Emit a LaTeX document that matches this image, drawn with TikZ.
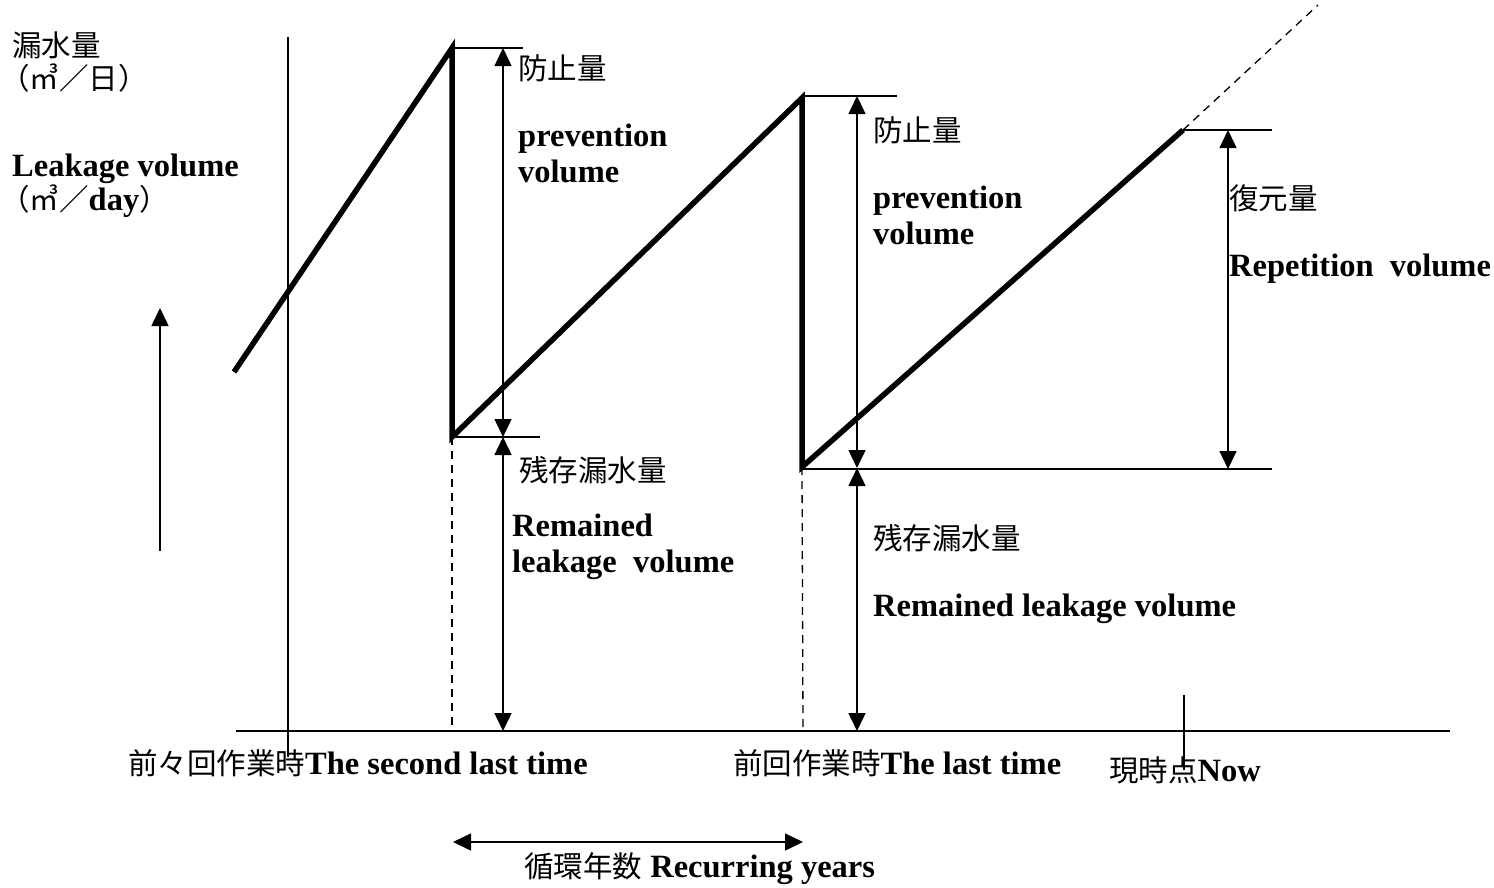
\documentclass[tikz,border=0pt]{standalone}
\usepackage{fontspec}
\setmainfont{Liberation Serif}
\newfontfamily\cjk{Noto Sans CJK JP}
\newcommand{\jpt}[1]{{\cjk\mdseries\fontsize{29.5}{34}\selectfont #1}}
\usetikzlibrary{arrows.meta}
\begin{document}
\begin{tikzpicture}[x=1pt,y=-1pt,
  thinl/.style={line width=1.5pt},
  saw/.style={line width=5.5pt, line join=miter},
  dashl/.style={line width=1.3pt, dash pattern=on 8pt off 6pt},
  dim/.style={line width=1.5pt, {Triangle[length=18pt,width=17pt]}-{Triangle[length=18pt,width=17pt]}},
  up/.style={line width=1.5pt, -{Triangle[length=18pt,width=17pt]}},
  en/.style={font=\fontsize{32.5}{36}\selectfont\bfseries, inner sep=0pt, anchor=base west},
  jp/.style={font=\fontsize{29.5}{34}\selectfont\cjk, inner sep=0pt, anchor=base west},
  mix/.style={font=\fontsize{32.5}{36}\selectfont\bfseries, inner sep=0pt, anchor=base west},
]
\useasboundingbox (0,0) rectangle (1494,887);
% key points
\coordinate (s0) at (234,372);
\coordinate (pk1) at (452,48);
\coordinate (lo1) at (452,437);
\coordinate (pk2) at (802,98);
\coordinate (lo2) at (802,467);
\coordinate (nowpt) at (1183,130);
\coordinate (dashend) at (1318,5);
\coordinate (ax1) at (452,731);
\coordinate (ax2) at (803,731);
% axes
\coordinate (yt) at (288,37);
\coordinate (yb) at (288,757);
\coordinate (xl) at (236,731);
\coordinate (xr) at (1450,731);
\draw[thinl] (yt) -- (yb);
\draw[thinl] (xl) -- (xr);
\coordinate (nt) at (1184,695);
\coordinate (nb) at (1184,770);
\draw[thinl] (nt) -- (nb);
% sawtooth
\draw[saw] (s0) -- (pk1) -- (lo1) -- (pk2) -- (lo2) -- (nowpt);
\draw[dashl] (nowpt) -- (dashend);
\draw[dashl] (lo1) -- (ax1);
\draw[dashl] (lo2) -- (ax2);
% reference lines
\coordinate (h1) at (523,48);
\coordinate (h2a) at (802,96);
\coordinate (h2b) at (897,96);
\coordinate (h3) at (540,437);
\coordinate (h4) at (1272,469);
\coordinate (h4a) at (803,469);
\coordinate (h5) at (1272,130);
\draw[thinl] (pk1) -- (h1);
\draw[thinl] (h2a) -- (h2b);
\draw[thinl] (lo1) -- (h3);
\draw[thinl] (h4a) -- (h4);
\draw[thinl] (nowpt) -- (h5);
% dimension arrows
\coordinate (a1t) at (503,48);
\coordinate (a1m) at (503,437);
\coordinate (a1b) at (503,731);
\draw[dim] (a1t) -- (a1m);
\draw[dim] (a1m) -- (a1b);
\coordinate (a2t) at (857,96);
\coordinate (a2m) at (857,468);
\coordinate (a2b) at (857,731);
\draw[dim] (a2t) -- (a2m);
\draw[dim] (a2m) -- (a2b);
\coordinate (a3t) at (1228,130);
\coordinate (a3b) at (1228,469);
\draw[dim] (a3t) -- (a3b);
\coordinate (la) at (160,551);
\coordinate (lb) at (160,308);
\draw[up] (la) -- (lb);
\coordinate (ca) at (453,842);
\coordinate (cb) at (803,842);
\draw[dim] (ca) -- (cb);
% texts
\node[jp] (t1) at (12,56) {漏水量};
\node[jp] (t2) at (0,89) {（㎥／日）};
\node[en] (t3) at (12,176) {Leakage volume};
\node[mix] (t4) at (0,210) {\jpt{（㎥／}day\jpt{）}};
\node[jp] (t5) at (518,79) {防止量};
\node[en] (t6) at (518,146) {prevention};
\node[en] (t7) at (518,182) {volume};
\node[jp] (t8) at (873,141) {防止量};
\node[en] (t9) at (873,208) {prevention};
\node[en] (t10) at (873,244) {volume};
\node[jp] (t11) at (1229,209) {復元量};
\node[en] (t12) at (1229,276) {Repetition\ \ volume};
\node[jp] (t13) at (519,481) {残存漏水量};
\node[en] (t14) at (512,536) {Remained};
\node[en] (t15) at (512,572) {leakage\ \ volume};
\node[jp] (t16) at (873,549) {残存漏水量};
\node[en] (t17) at (873,616) {Remained leakage volume};
\node[mix] (t18) at (128,774) {\jpt{前々回作業時}The second last time};
\node[mix] (t19) at (733,774) {\jpt{前回作業時}The last time};
\node[mix] (t20) at (1109,781) {\jpt{現時点}Now};
\node[mix] (t21) at (524,877) {\jpt{循環年数} Recurring years};
\end{tikzpicture}
\end{document}
